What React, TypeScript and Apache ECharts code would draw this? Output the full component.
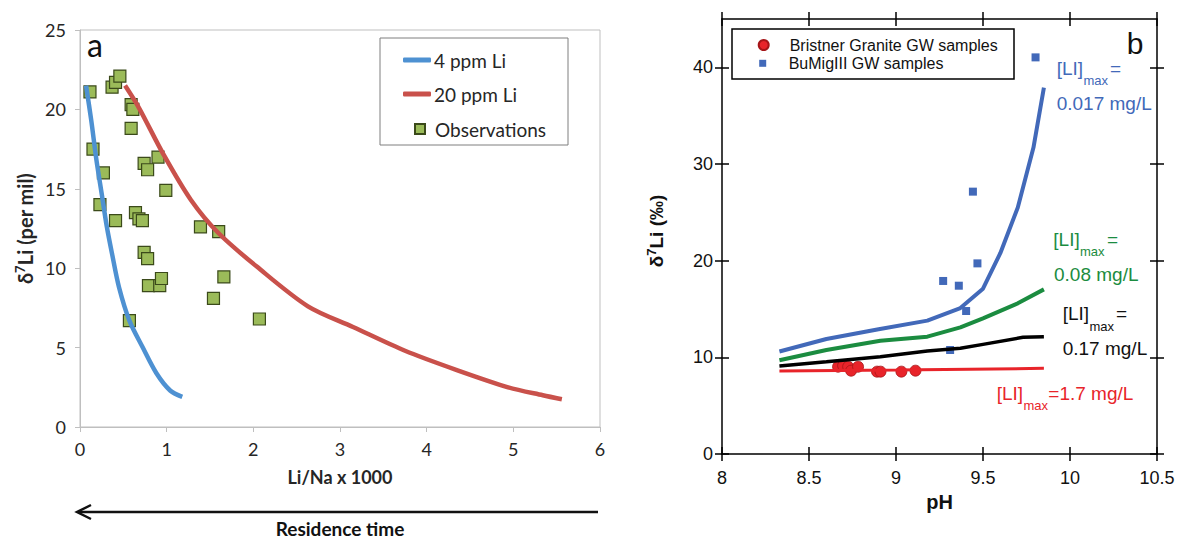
import React, { useEffect, useRef } from 'react';
import * as echarts from 'echarts';

// ---------- Panel a data ----------
const xTicksA = [0, 1, 2, 3, 4, 5, 6];
const yTicksA = [0, 5, 10, 15, 20, 25];
const curve4ppm: number[][] = [
  [0.07, 21.5], [0.13, 19.3], [0.19, 16.8], [0.25, 14.7], [0.31, 12.6], [0.37, 10.9],
  [0.45, 8.8], [0.57, 6.7], [0.72, 5.05], [0.88, 3.4], [1.04, 2.3], [1.18, 1.9],
];
const curve20ppm: number[][] = [
  [0.52, 21.5], [0.68, 20.1], [0.96, 17.2], [1.28, 14.3], [1.6, 12.2], [2.04, 10.1],
  [2.63, 7.6], [3.15, 6.3], [3.75, 4.8], [4.34, 3.6], [4.94, 2.5], [5.34, 2.0], [5.56, 1.75],
];
const observations: number[][] = [
  [0.115, 21.1], [0.15, 17.5], [0.27, 16.0], [0.23, 14.0], [0.41, 13.0], [0.37, 21.4],
  [0.41, 21.7], [0.46, 22.1], [0.59, 20.3], [0.61, 20.0], [0.59, 18.8], [0.74, 16.6],
  [0.78, 16.2], [0.9, 17.0], [0.99, 14.9], [0.64, 13.5], [0.68, 13.1], [0.72, 13.0],
  [0.74, 11.0], [0.78, 10.6], [0.79, 8.9], [0.92, 8.9], [0.94, 9.35], [0.57, 6.7],
  [1.39, 12.6], [1.6, 12.3], [1.66, 9.45], [1.54, 8.1], [2.07, 6.8],
];

// ---------- Panel b data ----------
const yTicksB = [0, 10, 20, 30, 40];
const lineLi0017: number[][] = [
  [8.33, 10.6], [8.6, 11.9], [8.9, 12.9], [9.18, 13.8], [9.37, 15.1], [9.5, 17.1],
  [9.6, 20.8], [9.7, 25.5], [9.79, 31.7], [9.85, 37.9],
];
const lineLi008: number[][] = [
  [8.33, 9.7], [8.6, 10.76], [8.91, 11.72], [9.18, 12.14], [9.37, 13.1], [9.5, 14.03],
  [9.7, 15.59], [9.85, 17.03],
];
const lineLi017: number[][] = [
  [8.33, 9.1], [8.6, 9.55], [8.91, 10.07], [9.18, 10.66], [9.37, 10.93], [9.5, 11.34],
  [9.73, 12.07], [9.85, 12.14],
];
const lineLi17: number[][] = [[8.33, 8.59], [9.0, 8.69], [9.85, 8.86]];
const bristner: number[][] = [
  [8.667, 9.03], [8.696, 9.14], [8.725, 9.03], [8.742, 8.62], [8.782, 9.03],
  [8.891, 8.52], [8.911, 8.52], [9.031, 8.52], [9.112, 8.62],
];
const bumig: number[][] = [
  [9.271, 17.9], [9.361, 17.41], [9.403, 14.79], [9.468, 19.72], [9.311, 10.76],
  [9.442, 27.14], [9.802, 41.03],
];

const FL = 'Lato, "Open Sans", sans-serif';
const FR = '"Liberation Sans", Arial, sans-serif';
const C_BLUE_A = '#4E91D2';
const C_RED_A = '#C9514B';
const C_BLUE_B = '#4269B9';
const C_GREEN_B = '#1B8C40';
const C_RED_B = '#E8242A';

function txt(x: number, y: number, text: string, color: string, size: number, extra: any = {}) {
  return {
    type: 'text', x, y, z: 10,
    style: {
      text, fill: color, fontSize: size, fontFamily: FR,
      align: 'left', verticalAlign: 'middle', ...extra,
    },
  };
}

export default function App() {
  const ref = useRef<HTMLDivElement>(null);
  useEffect(() => {
    if (!ref.current) return;
    const chart = echarts.init(ref.current, null, { renderer: 'svg' });
    const grayAxis = { show: true, onZero: false, lineStyle: { color: '#BFBFBF', width: 1 } };
    const blackLine = { show: true, onZero: false, lineStyle: { color: '#000', width: 1.5 } };
    const noLine = { show: false, onZero: false };
    const labelA = { fontFamily: FL, fontSize: 18, color: '#262626' };
    const labelB = { fontFamily: FR, fontSize: 18, color: '#111' };
    const rightX = (extra: any) => ({
      type: 'value', gridIndex: 1, min: 8, max: 10.5, interval: 0.5,
      splitLine: { show: false }, axisLabel: { show: false }, ...extra,
    });
    const rightY = (extra: any) => ({
      type: 'value', gridIndex: 1, min: 0, max: 45, interval: 10,
      splitLine: { show: false },
      axisLabel: { show: false },
      ...extra,
    });
    const tickB = (inside: boolean) => ({
      show: true, inside, length: 7, customValues: yTicksB,
      lineStyle: { color: '#000', width: 1.5 },
    });
    const tickBX = (inside: boolean) => ({
      show: true, inside, length: 7, lineStyle: { color: '#000', width: 1.5 },
    });

    const option: any = {
      animation: false,
      grid: [
        { left: 80, top: 30, width: 520, height: 397, show: true, borderColor: '#BFBFBF', borderWidth: 1 },
        { left: 722, top: 19, width: 435, height: 435 },
      ],
      xAxis: [
        {
          type: 'value', gridIndex: 0, min: xTicksA[0], max: xTicksA[xTicksA.length - 1], interval: 1,
          axisLine: grayAxis,
          axisTick: { show: true, inside: false, length: 5, lineStyle: { color: '#BFBFBF' } },
          axisLabel: { ...labelA, margin: 13 },
          splitLine: { show: false },
          name: 'Li/Na x 1000', nameLocation: 'middle', nameGap: 41,
          nameTextStyle: { fontFamily: FL, fontSize: 18, fontWeight: 'bold', color: '#262626' },
        },
        rightX({
          position: 'bottom', axisLine: blackLine, axisTick: tickBX(false),
          axisLabel: { show: true, ...labelB, margin: 15 },
          name: 'pH', nameLocation: 'middle', nameGap: 34,
          nameTextStyle: { fontFamily: FR, fontSize: 20, fontWeight: 'bold', color: '#111' },
        }),
        rightX({ position: 'bottom', axisLine: noLine, axisTick: tickBX(true) }),
        rightX({ position: 'top', axisLine: blackLine, axisTick: tickBX(false) }),
        rightX({ position: 'top', axisLine: noLine, axisTick: tickBX(true) }),
      ],
      yAxis: [
        {
          type: 'value', gridIndex: 0, min: yTicksA[0], max: yTicksA[yTicksA.length - 1], interval: 5,
          axisLine: grayAxis,
          axisTick: { show: true, inside: false, length: 5, lineStyle: { color: '#BFBFBF' } },
          axisLabel: { ...labelA, margin: 14 },
          splitLine: { show: false },
          name: '{b|δ}{s|7}{b|Li (per mil)}', nameLocation: 'middle', nameGap: 43,
          nameTextStyle: {
            rich: {
              b: { fontFamily: FL, fontSize: 20, fontWeight: 'bold', color: '#262626', lineHeight: 24 },
              s: { fontFamily: FL, fontSize: 13, fontWeight: 'bold', color: '#262626', lineHeight: 14, verticalAlign: 'top' },
            },
          },
        },
        rightY({
          position: 'left', axisLine: blackLine, axisTick: tickB(false),
          axisLabel: { show: true, ...labelB, margin: 9, customValues: yTicksB },
        }),
        rightY({ position: 'left', axisLine: noLine, axisTick: tickB(true) }),
        rightY({ position: 'right', axisLine: blackLine, axisTick: tickB(false) }),
        rightY({ position: 'right', axisLine: noLine, axisTick: tickB(true) }),
      ],
      legend: [
        {
          data: [
            { name: '4 ppm Li', icon: 'roundRect' },
            { name: '20 ppm Li', icon: 'roundRect' },
          ],
          orient: 'vertical', left: 403, top: 49, padding: 0,
          itemWidth: 28, itemHeight: 5, itemGap: 12, selectedMode: false,
          textStyle: { fontFamily: FL, fontSize: 19, color: '#262626', lineHeight: 22, padding: [0, 0, 0, -2] },
        },
        {
          data: ['Observations'], orient: 'vertical', left: 414, top: 118, padding: 0,
          itemWidth: 10, itemHeight: 10, selectedMode: false,
          textStyle: { fontFamily: FL, fontSize: 19, color: '#262626', lineHeight: 22, padding: [0, 0, 0, 5] },
        },
        {
          data: ['Bristner Granite GW samples'], orient: 'vertical', left: 757.7, top: 36, padding: 0,
          itemWidth: 10, itemHeight: 10, selectedMode: false,
          textStyle: { fontFamily: FR, fontSize: 16, color: '#111', lineHeight: 18, padding: [0, 0, 0, 16] },
        },
        {
          data: ['BuMigIII GW samples'], orient: 'vertical', left: 759.2, top: 54.3, padding: 0,
          itemWidth: 7, itemHeight: 7, selectedMode: false,
          textStyle: { fontFamily: FR, fontSize: 16, color: '#111', lineHeight: 18, padding: [0, 0, 0, 17.5] },
        },
      ],
      graphic: [
        { type: 'rect', z: 1, shape: { x: 380, y: 38, width: 188, height: 107 }, style: { fill: 'rgba(0,0,0,0)', stroke: '#7F7F7F', lineWidth: 1 } },
        { type: 'rect', z: 1, shape: { x: 732, y: 29, width: 282, height: 50 }, style: { fill: 'rgba(0,0,0,0)', stroke: '#000', lineWidth: 1.5 } },
        txt(87, 44, 'a', '#111', 32, { fontFamily: FL }),
        txt(1135, 43, 'b', '#111', 30, { align: 'center' }),
        txt(340, 528, 'Residence time', '#111', 19, { fontFamily: FL, fontWeight: 'bold', align: 'center' }),
        { type: 'line', shape: { x1: 598, y1: 512, x2: 78, y2: 512 }, style: { stroke: '#111', lineWidth: 2.5 } },
        { type: 'polyline', shape: { points: [[91, 505], [77, 512], [91, 519]] }, style: { stroke: '#111', lineWidth: 2.5, fill: 'none' } },
        {
          type: 'text', x: 656, y: 231, rotation: Math.PI / 2, z: 10,
          style: {
            text: '{b|δ}{s|7}{b|Li (‰)}', align: 'center', verticalAlign: 'middle',
            rich: {
              b: { fontFamily: FR, fontSize: 19, fontWeight: 'bold', fill: '#111', lineHeight: 22 },
              s: { fontFamily: FR, fontSize: 13, fontWeight: 'bold', fill: '#111', lineHeight: 13, verticalAlign: 'top' },
            },
          },
        },
        txt(1056.7, 68.3, '[LI]', C_BLUE_B, 19), txt(1083.5, 80.7, 'max', C_BLUE_B, 13),
        txt(1110, 68.3, '=', C_BLUE_B, 19), txt(1056.7, 103.3, '0.017 mg/L', C_BLUE_B, 19),
        txt(1053.3, 239.3, '[LI]', C_GREEN_B, 19), txt(1080, 251.7, 'max', C_GREEN_B, 13),
        txt(1107, 239.3, '=', C_GREEN_B, 19), txt(1054, 274, '0.08 mg/L', C_GREEN_B, 19),
        txt(1062.7, 313.3, '[LI]', '#111', 19), txt(1089.5, 326, 'max', '#111', 13),
        txt(1116, 313.3, '=', '#111', 19), txt(1062.7, 348.3, '0.17 mg/L', '#111', 19),
        txt(996.7, 393.3, '[LI]', C_RED_B, 19), txt(1023.5, 405.5, 'max', C_RED_B, 13),
        txt(1048.3, 393.3, '=1.7 mg/L', C_RED_B, 19),
      ],
      series: [
        {
          name: '4 ppm Li', type: 'line', xAxisIndex: 0, yAxisIndex: 0, data: curve4ppm,
          symbol: 'none', smooth: 0.3, lineStyle: { color: C_BLUE_A, width: 4.5 }, itemStyle: { color: C_BLUE_A },
        },
        {
          name: '20 ppm Li', type: 'line', xAxisIndex: 0, yAxisIndex: 0, data: curve20ppm,
          symbol: 'none', smooth: 0.3, lineStyle: { color: C_RED_A, width: 4.5 }, itemStyle: { color: C_RED_A },
        },
        {
          name: 'Observations', type: 'scatter', xAxisIndex: 0, yAxisIndex: 0, data: observations,
          symbol: 'rect', symbolSize: 12,
          itemStyle: { color: '#9BBB59', borderColor: '#3B4A1A', borderWidth: 1.2, opacity: 1 },
        },
        {
          name: '[LI]max = 0.017 mg/L', type: 'line', xAxisIndex: 1, yAxisIndex: 1, data: lineLi0017,
          symbol: 'none', lineStyle: { color: C_BLUE_B, width: 4 },
        },
        {
          name: '[LI]max = 0.08 mg/L', type: 'line', xAxisIndex: 1, yAxisIndex: 1, data: lineLi008,
          symbol: 'none', lineStyle: { color: C_GREEN_B, width: 4 },
        },
        {
          name: '[LI]max = 0.17 mg/L', type: 'line', xAxisIndex: 1, yAxisIndex: 1, data: lineLi017,
          symbol: 'none', lineStyle: { color: '#000', width: 3.5 },
        },
        {
          name: '[LI]max = 1.7 mg/L', type: 'line', xAxisIndex: 1, yAxisIndex: 1, data: lineLi17,
          symbol: 'none', lineStyle: { color: C_RED_B, width: 3 },
        },
        {
          name: 'Bristner Granite GW samples', type: 'scatter', xAxisIndex: 1, yAxisIndex: 1, data: bristner,
          symbol: 'circle', symbolSize: 11,
          itemStyle: { color: C_RED_B, borderColor: '#A51518', borderWidth: 0.8, opacity: 1 },
        },
        {
          name: 'BuMigIII GW samples', type: 'scatter', xAxisIndex: 1, yAxisIndex: 1, data: bumig,
          symbol: 'rect', symbolSize: 8,
          itemStyle: { color: C_BLUE_B, opacity: 1 },
        },
      ],
    };
    chart.setOption(option);
    return () => chart.dispose();
  }, []);
  return (
    <div
      ref={ref}
      style={{ position: 'fixed', left: 0, top: 0, width: 1182, height: 540, background: '#fff' }}
    />
  );
}
